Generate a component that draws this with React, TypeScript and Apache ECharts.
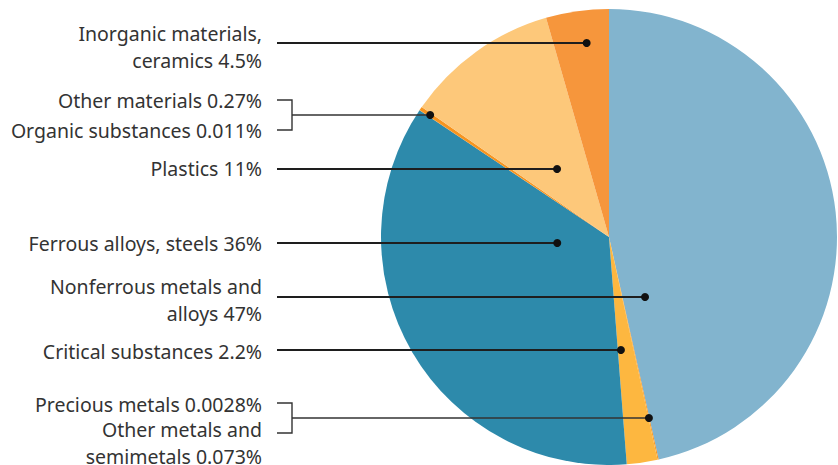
import React, { useEffect, useRef } from "react";
import * as echarts from "echarts";

const categories = [
  "Nonferrous metals and alloys",
  "Other metals and semimetals",
  "Precious metals",
  "Critical substances",
  "Ferrous alloys, steels",
  "Organic substances",
  "Other materials",
  "Plastics",
  "Inorganic materials, ceramics",
];
const values = [47, 0.073, 0.0028, 2.2, 36, 0.011, 0.27, 11, 4.5];
const colors = [
  "#82B4CE",
  "#F7941E",
  "#F7941E",
  "#FDB740",
  "#2D8AAB",
  "#F7941E",
  "#F7941E",
  "#FDC87A",
  "#F6963C",
];

// label texts (display)
const labelTexts = [
  "Nonferrous metals and\nalloys 47%",
  "Other metals and\nsemimetals 0.073%",
  "Precious metals 0.0028%",
  "Critical substances 2.2%",
  "Ferrous alloys, steels 36%",
  "Organic substances 0.011%",
  "Other materials 0.27%",
  "Plastics 11%",
  "Inorganic materials,\nceramics 4.5%",
];

// annotation layout: dot slice, angle fraction in slice, line y, labels (index, text center y, tick y)
const annotations = [
  { slice: 8, t: 0.59, lineY: 43, labels: [{ i: 8, y: 46.5 }] },
  { slice: 6, t: 0.5, lineY: 115, labels: [{ i: 6, y: 100, tick: 100 }, { i: 5, y: 130, tick: 130 }] },
  { slice: 7, t: 0.455, lineY: 169, labels: [{ i: 7, y: 168 }] },
  { slice: 4, t: 0.685, lineY: 243, labels: [{ i: 4, y: 243 }] },
  { slice: 0, t: 0.89, lineY: 297, labels: [{ i: 0, y: 299.5 }] },
  { slice: 3, t: 0.8, lineY: 350, labels: [{ i: 3, y: 351 }] },
  { slice: 1, t: 0.5, lineY: 418, labels: [{ i: 2, y: 404, tick: 403 }, { i: 1, y: 443, tick: 433 }] },
];

const CX = 609;
const CY = 237;
const R = 228;
const TEXT_X = 262;
const LINE_X0 = 277;
const BRACKET_X = 292;

export default function App() {
  const ref = useRef<HTMLDivElement>(null);
  useEffect(() => {
    document.body.style.margin = "0";
    const chart = echarts.init(ref.current!, null, { renderer: "svg" });
    const total = values.reduce((a, b) => a + b, 0);
    const starts: number[] = [];
    const spans: number[] = [];
    let cum = 0;
    values.forEach((v) => {
      starts.push((cum / total) * 360);
      spans.push((v / total) * 360);
      cum += v;
    });

    const graphics: any[] = [];
    const lineColor = "#1e1e1e";
    annotations.forEach((a) => {
      const theta = ((starts[a.slice] + a.t * spans[a.slice]) * Math.PI) / 180;
      const dotX = CX + (CY - a.lineY) * Math.tan(theta);
      const dotY = a.lineY;
      const bracket = a.labels.length > 1;
      graphics.push({
        type: "line",
        shape: { x1: bracket ? BRACKET_X : LINE_X0, y1: dotY, x2: dotX, y2: dotY },
        style: { stroke: bracket ? "#333" : lineColor, lineWidth: bracket ? 1.4 : 2 },
        z: 10,
      });
      if (bracket) {
        const ticks = a.labels.map((l: any) => l.tick);
        graphics.push({
          type: "polyline",
          shape: {
            points: [
              [LINE_X0, ticks[0]],
              [BRACKET_X, ticks[0]],
              [BRACKET_X, ticks[1]],
              [LINE_X0, ticks[1]],
            ],
          },
          style: { stroke: "#333", lineWidth: 1.4, fill: null },
          z: 10,
        });
      }
      graphics.push({
        type: "circle",
        shape: { cx: dotX, cy: dotY, r: 4 },
        style: { fill: "#111" },
        z: 11,
      });
      a.labels.forEach((l: any) => {
        graphics.push({
          type: "text",
          x: TEXT_X,
          y: l.y,
          style: {
            text: labelTexts[l.i],
            align: "right",
            verticalAlign: "middle",
            fontSize: 19.5,
            fontFamily: "Noto Sans",
            fill: "#333",
            lineHeight: 27,
          },
          z: 10,
        });
      });
    });

    chart.setOption({
      animation: false,
      series: [
        {
          type: "pie",
          center: [CX, CY],
          radius: [0, R],
          startAngle: 90,
          clockwise: true,
          minAngle: 0,
          avoidLabelOverlap: false,
          label: { show: false },
          labelLine: { show: false },
          emphasis: { disabled: true },
          silent: true,
          itemStyle: { borderWidth: 0 },
          data: categories.map((name, i) => ({
            name,
            value: values[i],
            itemStyle: { color: colors[i] },
          })),
        },
      ],
      graphic: graphics,
    });
    return () => chart.dispose();
  }, []);
  return <div ref={ref} style={{ width: 838, height: 465 }} />;
}
